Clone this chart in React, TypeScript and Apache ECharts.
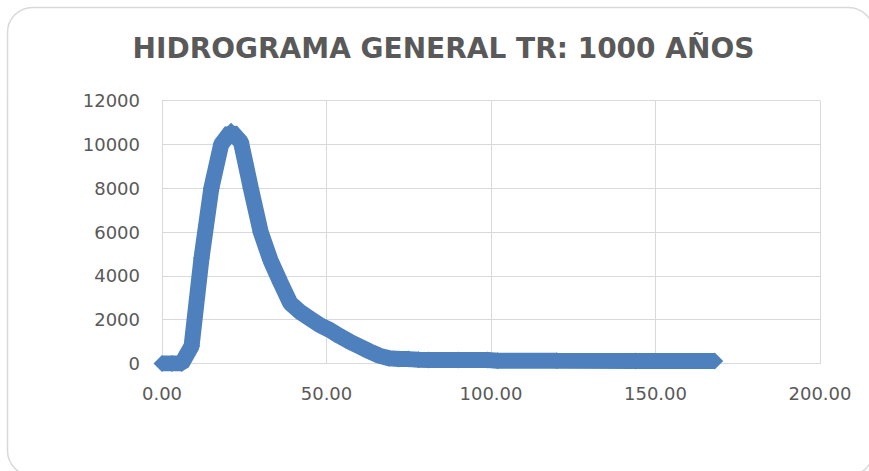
import React, { useEffect, useRef } from "react";
import * as echarts from "echarts";

const TITLE = "HIDROGRAMA GENERAL TR: 1000 AÑOS";

// Time (x) and flow (y)
const timeValues = [
  0, 3, 6, 9, 12, 15, 18, 21, 24, 27, 30, 33, 36, 39, 42, 45, 48, 51, 54, 57,
  60, 63, 66, 69, 72, 75, 78, 81, 90, 99, 102, 120, 144, 168,
];
const flowValues = [
  0, 0, 0, 800, 4800, 8000, 10000, 10600, 10100, 8000, 6000, 4700, 3700, 2750,
  2350, 2050, 1750, 1530, 1250, 1000, 780, 560, 360, 240, 210, 200, 170, 165,
  160, 160, 125, 120, 115, 110,
];

const X_MIN = 0;
const X_MAX = 200;
const X_STEP = 50;
const Y_MIN = 0;
const Y_MAX = 12000;
const Y_STEP = 2000;

const LINE_COLOR = "#4e80bd";
const GRID_COLOR = "#d9d9d9";
const TEXT_COLOR = "#595959";

export default function App() {
  const ref = useRef<HTMLDivElement>(null);

  useEffect(() => {
    document.body.style.margin = "0";
    if (!ref.current) return;
    const chart = echarts.init(ref.current, undefined, { renderer: "svg" });
    const data = timeValues.map((t, i) => [t, flowValues[i]]);
    chart.setOption({
      animation: false,
      backgroundColor: "#ffffff",
      graphic: [
        {
          type: "rect",
          shape: { x: 7.5, y: 7.5, width: 866, height: 468, r: 25 },
          style: { fill: "none", stroke: GRID_COLOR, lineWidth: 1.5 },
          silent: true,
          z: -1,
        },
        {
          type: "text",
          x: 443.5,
          y: 48.5,
          style: {
            text: TITLE,
            align: "center",
            verticalAlign: "middle",
            fill: TEXT_COLOR,
            font: "bold 28px 'DejaVu Sans'",
          },
        },
      ],
      grid: { left: 162, top: 100.5, width: 658, height: 263, containLabel: false },
      xAxis: {
        type: "value",
        min: X_MIN,
        max: X_MAX,
        interval: X_STEP,
        axisLine: { show: true, lineStyle: { color: GRID_COLOR, width: 1 } },
        axisTick: { show: false },
        splitLine: { show: true, lineStyle: { color: GRID_COLOR, width: 1 } },
        axisLabel: {
          margin: 21,
          color: TEXT_COLOR,
          fontFamily: "DejaVu Sans",
          fontSize: 18,
          formatter: (v: number) => v.toFixed(2),
        },
      },
      yAxis: {
        type: "value",
        min: Y_MIN,
        max: Y_MAX,
        interval: Y_STEP,
        axisLine: { show: true, lineStyle: { color: GRID_COLOR, width: 1 } },
        axisTick: { show: false },
        splitLine: { show: true, lineStyle: { color: GRID_COLOR, width: 1 } },
        axisLabel: {
          margin: 22,
          color: TEXT_COLOR,
          fontFamily: "DejaVu Sans",
          fontSize: 18,
          formatter: (v: number) => String(v),
        },
      },
      series: [
        {
          type: "line",
          data,
          symbol: "diamond",
          symbolSize: 17,
          showAllSymbol: true,
          itemStyle: { color: LINE_COLOR },
          lineStyle: { color: LINE_COLOR, width: 16, join: "bevel", cap: "butt" },
          z: 3,
        },
      ],
    });
    return () => chart.dispose();
  }, []);

  return <div ref={ref} style={{ width: 869, height: 471 }} />;
}
